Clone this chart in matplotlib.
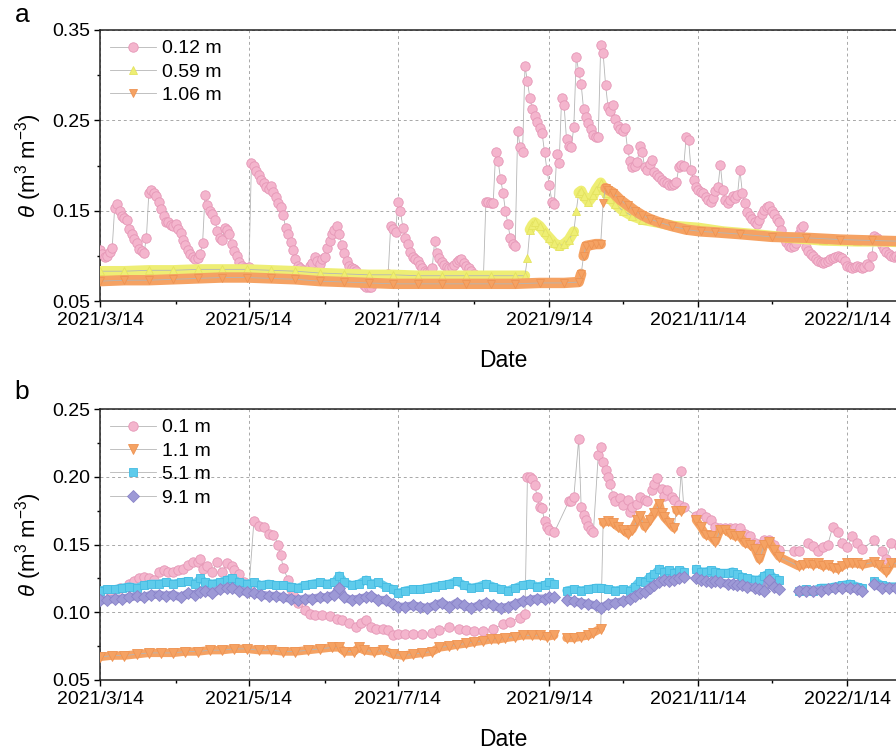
import numpy as np
import matplotlib
matplotlib.use("Agg")
import matplotlib.pyplot as plt
import matplotlib.dates as mdates
from matplotlib.ticker import FuncFormatter, FormatStrFormatter

# ==========================================
# Data (day 0 = 2021/3/14)
# ==========================================

START = np.datetime64("2021-03-14")
END_DAY = 330

# panel a, 0.12 m (daily values)
pink_a = [
    0.106, 0.102, 0.099, 0.100, 0.104, 0.109, 0.153, 0.157, 0.150, 0.144,
    0.142, 0.140, 0.130, 0.124, 0.119, 0.114, 0.108, 0.105, 0.103, 0.120,
    0.170, 0.173, 0.170, 0.166, 0.160, 0.152, 0.144, 0.138, 0.137, 0.134,
    0.133, 0.135, 0.130, 0.125, 0.118, 0.112, 0.106, 0.102, 0.099, 0.097,
    0.098, 0.102, 0.114, 0.167, 0.156, 0.150, 0.146, 0.140, 0.128, 0.120,
    0.117, 0.131, 0.129, 0.124, 0.113, 0.105, 0.100, 0.093, 0.089, 0.087,
    0.086, 0.088, 0.203, 0.200, 0.194, 0.189, 0.184, 0.181, 0.176, 0.174,
    0.177, 0.171, 0.165, 0.159, 0.154, 0.145, 0.131, 0.124, 0.115, 0.107,
    0.096, 0.089, 0.086, 0.084, 0.083, 0.084, 0.089, 0.092, 0.099, 0.094,
    0.091, 0.096, 0.099, 0.109, 0.116, 0.124, 0.129, 0.133, 0.124, 0.112,
    0.103, 0.094, 0.089, 0.086, 0.085, 0.083, 0.077, 0.072, 0.068, 0.066,
    0.065, 0.066, 0.070, 0.074, 0.075, 0.076, 0.077, 0.078, 0.080, 0.133,
    0.130, 0.126, 0.160, 0.150, 0.131, 0.120, 0.113, 0.104, 0.099, 0.096,
    0.094, 0.090, 0.086, 0.083, 0.082, 0.083, 0.086, 0.116, 0.103, 0.098,
    0.093, 0.090, 0.088, 0.087, 0.088, 0.090, 0.093, 0.095, 0.096, 0.092,
    0.089, 0.086, 0.083, 0.080, 0.078, 0.077, 0.077, 0.078, 0.160, 0.160,
    0.158, 0.159, 0.215, 0.205, 0.185, 0.170, 0.150, 0.135, 0.120, 0.113,
    0.111, 0.238, 0.221, 0.215, 0.310, 0.293, 0.275, 0.262, 0.255, 0.248,
    0.242, 0.236, 0.215, 0.195, 0.178, 0.160, 0.157, 0.213, 0.203, 0.275,
    0.267, 0.229, 0.222, 0.221, 0.243, 0.320, 0.304, 0.290, 0.262, 0.254,
    0.247, 0.240, 0.234, 0.232, 0.231, 0.333, 0.324, 0.289, 0.265, 0.260,
    0.267, 0.251, 0.244, 0.240, 0.238, 0.241, 0.218, 0.205, 0.198, 0.200,
    0.204, 0.222, 0.215, 0.198, 0.195, 0.202, 0.206, 0.193, 0.190, 0.187,
    0.184, 0.182, 0.181, 0.178, 0.178, 0.180, 0.182, 0.198, 0.201, 0.199,
    0.232, 0.228, 0.195, 0.184, 0.176, 0.173, 0.171, 0.170, 0.165, 0.162,
    0.160, 0.164, 0.172, 0.176, 0.201, 0.173, 0.162, 0.159, 0.162, 0.166,
    0.164, 0.167, 0.195, 0.170, 0.159, 0.148, 0.144, 0.141, 0.137, 0.135,
    0.140, 0.146, 0.151, 0.154, 0.155, 0.150, 0.146, 0.141, 0.137, 0.129,
    0.120, 0.115, 0.111, 0.110, 0.111, 0.114, 0.124, 0.131, 0.133, 0.110,
    0.105, 0.102, 0.100, 0.097, 0.094, 0.093, 0.092, 0.093, 0.094, 0.096,
    0.098, 0.099, 0.100, 0.099, 0.098, 0.094, 0.089, 0.088, 0.087, 0.088,
    0.089, 0.088, 0.087, 0.088, 0.091, 0.089, 0.100, 0.122, 0.120, 0.118,
    0.112, 0.108, 0.104, 0.102, 0.100, 0.099, 0.100, 0.098, 0.097, 0.096,
    0.096,
]
pink_a_days = list(range(len(pink_a)))

# panel a, 0.59 m
yel_a_days = [0, 10, 20, 30, 40, 50, 60, 70, 80, 90, 100, 110, 120, 130,
              140, 150, 160, 170, 174, 175, 176, 177, 178, 180, 182, 184,
              186, 188, 190, 192, 194, 195, 196, 197, 198, 200, 202, 203,
              205, 206, 207, 209, 211, 214, 218, 222, 228, 235, 245, 255,
              268, 282, 296, 310, 320, 330]
yel_a = [0.083, 0.083, 0.084, 0.084, 0.085, 0.085, 0.085, 0.084, 0.083,
         0.081, 0.080, 0.079, 0.079, 0.078, 0.078, 0.078, 0.078, 0.078,
         0.078, 0.098, 0.129, 0.134, 0.137, 0.133, 0.126, 0.120, 0.114,
         0.111, 0.113, 0.118, 0.127, 0.150, 0.170, 0.172, 0.166, 0.160,
         0.167, 0.173, 0.181, 0.176, 0.170, 0.163, 0.157, 0.150, 0.144,
         0.140, 0.137, 0.133, 0.131, 0.127, 0.124, 0.120, 0.117, 0.116,
         0.116, 0.115]

# panel a, 1.06 m
org_a_days = [0, 10, 20, 30, 40, 50, 60, 70, 80, 90, 100, 110, 120, 130,
              140, 150, 160, 170, 180, 190, 196, 197, 198, 199, 201, 203,
              205, 206, 207, 208, 210, 213, 216, 219, 222, 225, 229, 234,
              240, 246, 252, 262, 275, 289, 303, 316, 330]
org_a = [0.072, 0.073, 0.073, 0.074, 0.075, 0.076, 0.076, 0.075, 0.074,
         0.072, 0.071, 0.070, 0.069, 0.069, 0.069, 0.069, 0.069, 0.069,
         0.070, 0.070, 0.071, 0.080, 0.100, 0.111, 0.112, 0.113, 0.113,
         0.159, 0.175, 0.173, 0.170, 0.162, 0.156, 0.150, 0.145, 0.141,
         0.137, 0.133, 0.129, 0.127, 0.126, 0.124, 0.121, 0.120, 0.118,
         0.117, 0.116]

nan = np.nan

# panel b, 0.1 m
pink_b_days = [0, 4, 8, 12, 14, 16, 18, 20, 22, 24, 26, 28, 30, 32, 34, 36,
               38, 40, 41, 42, 44, 46, 48, 50, 52, 54, 55, 57, 59, 61, 63,
               65, 67, 69, 71, 73, 74, 75, 77, 78, 79, 81, 84, 86, 88, 91,
               94, 97, 99, 102, 105, 107, 109, 111, 113, 116, 118, 120, 122,
               125, 128, 132, 136, 139, 143, 147, 150, 153, 157, 161, 165,
               168, 172, 174, 175, 176, 177, 178, 179, 180, 181, 182, 183,
               184, 186, 192, 193, 194, 196, 197, 198, 199, 200, 201, 202,
               204, 205, 206, 207, 208, 209, 210, 211, 213, 214, 216, 217,
               218, 220, 221, 223, 224, 226, 227, 228, 230, 231, 232, 234,
               235, 237, 238, 239, 244, 246, 248, 250, 252, 254, 256, 258,
               260, 262, 264, 266, 268, 270, 272, 274, 276, 278, 284, 286,
               290, 292, 294, 296, 298, 300, 302, 304, 306, 308, 310, 312,
               317, 320, 322, 324, 327, 330]
pink_b = [0.115, 0.116, 0.118, 0.121, 0.123, 0.125, 0.126, 0.125, 0.124,
          0.130, 0.131, 0.130, 0.130, 0.131, 0.132, 0.135, 0.137, 0.137,
          0.139, 0.132, 0.134, 0.130, 0.137, 0.130, 0.136, 0.134, 0.131,
          0.128, 0.122, 0.118, 0.167, 0.164, 0.163, 0.158, 0.157, 0.150,
          0.142, 0.133, 0.124, 0.117, 0.113, 0.107, 0.102, 0.099, 0.098,
          0.098, 0.097, 0.095, 0.094, 0.092, 0.089, 0.092, 0.094, 0.089,
          0.088, 0.088, 0.087, 0.083, 0.084, 0.084, 0.084, 0.084, 0.085,
          0.087, 0.089, 0.088, 0.087, 0.086, 0.086, 0.088, 0.091, 0.093,
          0.096, 0.099, 0.200, 0.200, 0.198, 0.194, 0.185, 0.178, 0.177,
          0.167, 0.163, 0.161, 0.159, 0.182, 0.182, 0.185, 0.228, 0.178,
          0.172, 0.168, 0.164, 0.161, 0.159, 0.216, 0.222, 0.211, 0.205,
          0.200, 0.195, 0.186, 0.182, 0.184, 0.179, 0.183, 0.174, 0.178,
          0.180, 0.185, 0.183, 0.182, 0.190, 0.195, 0.199, 0.191, 0.186,
          0.190, 0.185, 0.183, 0.179, 0.204, 0.178, 0.171, 0.173, 0.170,
          0.168, 0.163, 0.162, 0.162, 0.162, 0.162, 0.162, 0.158, 0.156,
          0.151, 0.148, 0.153, 0.153, 0.150, 0.146, 0.145, 0.145, 0.151,
          0.149, 0.145, 0.148, 0.150, 0.163, 0.159, 0.151, 0.148, 0.156,
          0.151, 0.147, 0.153, 0.145, 0.139, 0.151, 0.149, 0.150]

# panel b, 1.1 m
org_b_days = [0, 5, 10, 15, 20, 25, 30, 35, 40, 45, 50, 55, 60, 65, 70, 75,
              80, 85, 90, 95, 98, 100, 104, 106, 108, 112, 116, 120, 124,
              128, 132, 136, 139, 143, 146, 150, 153, 157, 160, 163, 166,
              170, 173, 177, 180, 183, 186, 188, 191, 194, 197, 200, 202,
              205, 206, 208, 210, 212, 214, 216, 218, 220, 221, 223, 225,
              227, 229, 230, 231, 233, 235, 236, 238, 241, 244, 246, 248,
              250, 252, 254, 256, 258, 260, 262, 264, 266, 268, 270, 272,
              274, 276, 278, 286, 288, 290, 292, 294, 296, 298, 300, 302,
              304, 306, 308, 310, 312, 317, 319, 322, 324, 327, 330]
org_b = [0.067, 0.068, 0.068, 0.069, 0.070, 0.070, 0.070, 0.071, 0.071,
         0.072, 0.072, 0.073, 0.073, 0.072, 0.072, 0.071, 0.071, 0.072,
         0.073, 0.074, 0.074, 0.071, 0.071, 0.074, 0.072, 0.071, 0.072,
         0.069, 0.068, 0.069, 0.070, 0.071, 0.074, 0.075, 0.076, 0.077,
         0.078, 0.079, 0.080, 0.080, 0.081, 0.082, 0.083, 0.083, 0.083,
         0.082, 0.083, nan, 0.081, 0.081, 0.082, 0.083, 0.085, 0.088,
         0.166, 0.167, 0.166, 0.163, 0.161, 0.158, 0.161, 0.168, 0.171,
         0.163, 0.168, 0.173, 0.180, 0.173, 0.170, 0.166, 0.162, 0.175,
         0.175, nan, 0.168, 0.163, 0.157, 0.156, 0.152, 0.161, 0.161,
         0.158, 0.156, 0.156, 0.151, 0.150, 0.147, 0.139, 0.150, 0.152,
         0.146, 0.141, 0.134, 0.135, 0.136, 0.135, 0.136, 0.134, 0.135,
         0.133, 0.132, 0.134, 0.136, 0.136, 0.136, 0.135, 0.137, 0.135,
         0.130, 0.136, 0.136, 0.136]

# panel b, 5.1 m
cyan_b_days = [0, 3, 6, 9, 12, 15, 18, 21, 24, 27, 30, 33, 36, 39, 41, 43,
               46, 49, 52, 54, 57, 60, 63, 66, 69, 72, 75, 78, 81, 84, 87,
               90, 93, 96, 98, 100, 103, 106, 109, 111, 114, 117, 120, 122,
               125, 128, 131, 134, 137, 140, 143, 146, 149, 152, 155, 158,
               161, 164, 167, 170, 173, 176, 179, 182, 184, 186, 188, 191,
               194, 197, 200, 203, 205, 208, 211, 214, 217, 219, 221, 223,
               225, 227, 229, 231, 233, 235, 237, 239, 241, 244, 246, 248,
               250, 252, 254, 257, 259, 261, 263, 265, 268, 270, 272, 274,
               276, 278, 282, 286, 289, 292, 295, 298, 301, 304, 307, 310,
               312, 315, 317, 320, 323, 326, 330]
cyan_b = [0.116, 0.117, 0.117, 0.118, 0.119, 0.118, 0.120, 0.121, 0.121,
          0.122, 0.121, 0.122, 0.123, 0.121, 0.125, 0.122, 0.121, 0.122,
          0.124, 0.125, 0.122, 0.121, 0.122, 0.120, 0.121, 0.120, 0.120,
          0.119, 0.118, 0.120, 0.121, 0.122, 0.121, 0.122, 0.127, 0.122,
          0.120, 0.121, 0.124, 0.121, 0.122, 0.119, 0.117, 0.114, 0.116,
          0.117, 0.117, 0.118, 0.119, 0.120, 0.121, 0.123, 0.120, 0.118,
          0.119, 0.121, 0.119, 0.117, 0.116, 0.118, 0.120, 0.121, 0.119,
          0.120, 0.122, 0.121, nan, 0.116, 0.117, 0.116, 0.117, 0.118,
          0.118, 0.117, 0.116, 0.117, 0.116, 0.119, 0.123, 0.122, 0.126,
          0.128, 0.132, 0.130, 0.131, 0.129, 0.131, 0.130, nan, 0.132,
          0.130, 0.130, 0.131, 0.130, 0.129, 0.129, 0.130, 0.128, 0.126,
          0.125, 0.124, 0.124, 0.127, 0.129, 0.125, 0.124, nan, 0.116,
          0.117, 0.116, 0.118, 0.118, 0.119, 0.120, 0.121, 0.119, 0.118,
          nan, 0.123, 0.120, 0.119, 0.119, 0.119]

# panel b, 9.1 m
purp_b_days = cyan_b_days
purp_b = [0.109, 0.109, 0.110, 0.110, 0.111, 0.112, 0.111, 0.113, 0.113,
          0.112, 0.113, 0.111, 0.114, 0.113, 0.115, 0.116, 0.114, 0.117,
          0.118, 0.118, 0.116, 0.115, 0.114, 0.113, 0.112, 0.112, 0.111,
          0.110, 0.109, 0.110, 0.110, 0.111, 0.111, 0.113, 0.118, 0.111,
          0.109, 0.110, 0.111, 0.112, 0.109, 0.109, 0.106, 0.104, 0.104,
          0.105, 0.104, 0.103, 0.105, 0.107, 0.104, 0.107, 0.105, 0.103,
          0.105, 0.107, 0.105, 0.103, 0.104, 0.106, 0.108, 0.109, 0.110,
          0.110, 0.111, 0.111, nan, 0.109, 0.108, 0.107, 0.106, 0.105,
          0.103, 0.106, 0.107, 0.108, 0.110, 0.112, 0.114, 0.115, 0.118,
          0.120, 0.122, 0.124, 0.123, 0.124, 0.125, 0.126, nan, 0.125,
          0.124, 0.123, 0.122, 0.123, 0.122, 0.121, 0.121, 0.120, 0.120,
          0.119, 0.118, 0.117, 0.116, 0.124, 0.119, 0.117, nan, 0.116,
          0.116, 0.116, 0.116, 0.117, 0.118, 0.118, 0.118, 0.117, 0.116,
          nan, 0.121, 0.118, 0.118, 0.118, 0.118]

# ==========================================
# Style
# ==========================================

plt.rcParams["font.family"] = ["Liberation Sans", "DejaVu Sans"]
plt.rcParams["mathtext.fontset"] = "custom"
plt.rcParams["mathtext.rm"] = "Liberation Sans"
plt.rcParams["mathtext.it"] = "Liberation Sans:italic"

TICK_FS = 14
LINE_C = "#b5b5b5"

PINK = ("#f4b5cd", "#e597b6")
YELLOW = ("#eeee74", "#e4e35e")
ORANGE = ("#f5a263", "#ee9352")
CYAN = ("#5ecbeb", "#44bbe2")
PURPLE = ("#9d99d6", "#8983c8")


def to_dates(days):
    return START + np.asarray(days).astype("timedelta64[D]")


def draw_band(ax, days, vals, color, lw, z):
    # thick strip under the markers, broken where the series jumps
    vals = np.asarray(vals, dtype=float)
    bd, bv = [], []
    for i in range(len(vals)):
        bd.append(days[i])
        bv.append(vals[i])
        if i < len(vals) - 1 and abs(vals[i + 1] - vals[i]) > 0.012:
            bd.append(days[i])
            bv.append(np.nan)
    ax.plot(to_dates(bd), bv, color=color, lw=lw,
            solid_capstyle="round", zorder=z)


def draw_series(ax, days, vals, marker, colors, ms, label, z):
    ax.plot(to_dates(days), vals, "-", color=LINE_C, lw=0.6,
            marker=marker, markersize=ms, markerfacecolor=colors[0],
            markeredgecolor=colors[1], markeredgewidth=0.6,
            label=label, zorder=z)


def date_fmt(x, pos):
    d = mdates.num2date(x)
    return f"{d.year}/{d.month}/{d.day}"


def style_axes(ax, ylim, major, minor):
    ax.set_xlim(to_dates([0])[0], to_dates([END_DAY])[0])
    ax.set_ylim(*ylim)
    ax.set_yticks(major)
    ax.set_yticks(minor, minor=True)
    ax.yaxis.set_major_formatter(FormatStrFormatter("%.2f"))
    ax.xaxis.set_major_locator(
        mdates.MonthLocator(bymonth=[1, 3, 5, 7, 9, 11], bymonthday=14))
    ax.xaxis.set_minor_locator(
        mdates.MonthLocator(bymonth=[2, 4, 6, 8, 10, 12], bymonthday=14))
    ax.xaxis.set_major_formatter(FuncFormatter(date_fmt))
    ax.tick_params(which="both", direction="out", width=1.0,
                   labelsize=TICK_FS, top=False, right=False)
    ax.tick_params(which="major", length=4)
    ax.tick_params(which="minor", length=2.5)
    ax.tick_params(axis="x", pad=4)
    ax.tick_params(axis="y", pad=3)
    ax.grid(True, which="major", ls=(0, (3, 3)), color="#a8a8a8", lw=0.7)
    ax.set_axisbelow(True)
    for sp in ax.spines.values():
        sp.set_linewidth(1.1)
        sp.set_color("#222222")
    ax.set_xlabel("Date", fontsize=16.5, labelpad=14)
    ax.set_ylabel(r"$\theta$ (m$^3$ m$^{-3}$)", fontsize=16, labelpad=6)
    ax.legend(loc="upper left", frameon=False, fontsize=14,
              handlelength=2.4, handletextpad=0.3, labelspacing=0.3,
              borderpad=0.2, borderaxespad=0.3)


# ==========================================
# Figure
# ==========================================

fig = plt.figure(figsize=(8.96, 7.49), dpi=100)

ax_a = fig.add_axes([100 / 896, 1 - 301 / 749, 806 / 896, 271 / 749])
ax_b = fig.add_axes([100 / 896, 1 - 680 / 749, 806 / 896, 271 / 749])

# panel a
draw_series(ax_a, pink_a_days, pink_a, "o", PINK, 6.8, "0.12 m", 3)
draw_band(ax_a, yel_a_days, yel_a, YELLOW[0], 7.5, 4)
draw_series(ax_a, yel_a_days, yel_a, "^", YELLOW, 6.4, "0.59 m", 4.5)
draw_band(ax_a, org_a_days, org_a, ORANGE[0], 7.5, 5)
draw_series(ax_a, org_a_days, org_a, "v", ORANGE, 6.4, "1.06 m", 5.5)

style_axes(ax_a, (0.05, 0.35), [0.05, 0.15, 0.25, 0.35], [0.10, 0.20, 0.30])

# panel b
draw_series(ax_b, pink_b_days, pink_b, "o", PINK, 6.8, "0.1 m", 3)
draw_band(ax_b, org_b_days, org_b, ORANGE[0], 6, 4)
draw_series(ax_b, org_b_days, org_b, "v", ORANGE, 7, "1.1 m", 4.5)
draw_band(ax_b, cyan_b_days, cyan_b, CYAN[0], 6, 5)
draw_series(ax_b, cyan_b_days, cyan_b, "s", CYAN, 6.2, "5.1 m", 5.5)
draw_band(ax_b, purp_b_days, purp_b, PURPLE[0], 6, 6)
draw_series(ax_b, purp_b_days, purp_b, "D", PURPLE, 6.2, "9.1 m", 6.5)

style_axes(ax_b, (0.05, 0.25), [0.05, 0.10, 0.15, 0.20, 0.25],
           [0.075, 0.125, 0.175, 0.225])

# panel letters
fig.text(22 / 896, 1 - 15 / 749, "a", fontsize=19, ha="center", va="center")
fig.text(22 / 896, 1 - 392 / 749, "b", fontsize=19, ha="center", va="center")

fig.savefig("out.png", dpi=100)
